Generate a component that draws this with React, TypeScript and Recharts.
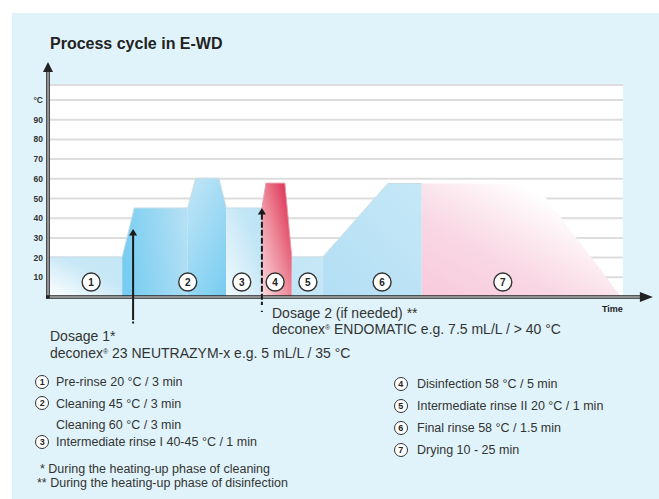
import React from 'react';
import { ComposedChart, Area, XAxis, YAxis, CartesianGrid, ReferenceLine, ReferenceDot } from 'recharts';

const FONT = '"Liberation Sans", Arial, Helvetica, sans-serif';

// Phase outlines: t = position along the time axis (relative units), v = temperature °C
const preRinse = [{ t: 0, v: 20.3 }, { t: 12.9, v: 20.3 }];
const cleaning45 = [{ t: 12.9, v: 20.3 }, { t: 15.0, v: 45.2 }, { t: 24.3, v: 45.2 }];
const cleaning60 = [{ t: 24.3, v: 45.2 }, { t: 25.7, v: 60.3 }, { t: 29.7, v: 60.3 }, { t: 31.0, v: 45.2 }];
const rinse1 = [{ t: 31.0, v: 45.2 }, { t: 37.2, v: 45.2 }];
const disinfection = [{ t: 37.2, v: 45.2 }, { t: 37.9, v: 57.8 }, { t: 41.2, v: 57.8 }, { t: 42.4, v: 20.3 }];
const rinse2 = [{ t: 42.4, v: 20.3 }, { t: 47.8, v: 20.3 }];
const finalRinse = [{ t: 47.8, v: 20.3 }, { t: 59.1, v: 57.6 }, { t: 65.0, v: 57.6 }];
const drying = [{ t: 65.0, v: 57.6 }, { t: 84.7, v: 57.6 }, { t: 99.7, v: 0 }];

const yTicks = [10, 20, 30, 40, 50, 60, 70, 80, 90, 100];
const stepMarks = [
  { t: 7.5, label: '1' },
  { t: 24.3, label: '2' },
  { t: 33.7, label: '3' },
  { t: 39.5, label: '4' },
  { t: 45.2, label: '5' },
  { t: 58.1, label: '6' },
  { t: 79.1, label: '7' },
];
const dosage1 = { t: 14.8, tip: 34.5, solidEnd: -10.7, end: -13.7 };
const dosage2 = { t: 37.2, tip: 45.2, dashEnd: -4, dot: -7.6 };

const legendLeft = [
  { n: '1', text: 'Pre-rinse 20 °C / 3 min' },
  { n: '2', text: 'Cleaning 45 °C / 3 min' },
  { n: '', text: 'Cleaning 60 °C / 3 min' },
  { n: '3', text: 'Intermediate rinse I 40-45 °C / 1 min' },
];
const legendLeftY = [382, 403.5, 424.5, 442];
const legendRight = [
  { n: '4', text: 'Disinfection 58 °C / 5 min' },
  { n: '5', text: 'Intermediate rinse II 20 °C / 1 min' },
  { n: '6', text: 'Final rinse 58 °C / 1.5 min' },
  { n: '7', text: 'Drying 10 - 25 min' },
];
const legendRightY = [384, 406, 428, 450];

const upArrow = (w: number, h: number, color: string) => (props: any) => {
  const { cx, cy } = props;
  return <path d={`M${cx},${cy} L${cx - w / 2},${cy + h} L${cx + w / 2},${cy + h} Z`} fill={color} />;
};
const rightArrow = (w: number, h: number, color: string) => (props: any) => {
  const { cx, cy } = props;
  return <path d={`M${cx},${cy} L${cx - w},${cy - h / 2} L${cx - w},${cy + h / 2} Z`} fill={color} />;
};

const Circle = ({ n, x, y }: { n: string; x: number; y: number }) => (
  <div
    style={{
      position: 'absolute',
      left: x - 7.5,
      top: y - 7.5,
      width: 12.4,
      height: 12.4,
      borderRadius: '50%',
      border: '1.3px solid #333',
      background: '#fff',
      fontSize: 9,
      fontWeight: 'bold',
      lineHeight: '12.4px',
      textAlign: 'center',
      color: '#222',
    }}
  >
    {n}
  </div>
);

const Txt = ({ x, top, size, children, bold }: any) => (
  <div
    style={{
      position: 'absolute',
      left: x,
      top,
      fontSize: size,
      lineHeight: 1.15,
      whiteSpace: 'nowrap',
      color: '#333',
      fontWeight: bold ? 'bold' : 'normal',
    }}
  >
    {children}
  </div>
);

const Reg = () => <span style={{ fontSize: '0.5em', verticalAlign: '0.55em' }}>®</span>;

export default function App() {
  const edge = '#c9dce6';
  return (
    <div
      style={{
        position: 'absolute',
        left: 0,
        top: 0,
        width: 659,
        height: 499,
        background: '#fff',
        fontFamily: FONT,
        overflow: 'hidden',
      }}
    >
      <div style={{ position: 'absolute', left: 12, top: 13, right: 0, bottom: 0, background: '#e0f3fa' }} />
      <div style={{ position: 'absolute', left: 0, top: 0 }}>
        <ComposedChart width={659} height={340} margin={{ top: 85, right: 36, bottom: 43, left: 18 }}>
          <defs>
            <linearGradient id="gPre" x1="0" y1="1" x2="1" y2="0">
              <stop offset="0" stopColor="#ffffff" />
              <stop offset="0.6" stopColor="#c8e8f6" />
              <stop offset="1" stopColor="#c3e6f6" />
            </linearGradient>
            <linearGradient id="gC45" x1="0" y1="0.5" x2="1" y2="0.3">
              <stop offset="0" stopColor="#76ccf1" />
              <stop offset="1" stopColor="#b4e0f4" />
            </linearGradient>
            <linearGradient id="gC60" x1="0.2" y1="0" x2="0.8" y2="1">
              <stop offset="0" stopColor="#bde4f6" />
              <stop offset="1" stopColor="#7ccef1" />
            </linearGradient>
            <linearGradient id="gR1" x1="0" y1="1" x2="1" y2="0">
              <stop offset="0" stopColor="#f2fafd" />
              <stop offset="0.7" stopColor="#c3e6f6" />
              <stop offset="1" stopColor="#bce3f5" />
            </linearGradient>
            <linearGradient id="gDis" x1="0" y1="1" x2="1" y2="0">
              <stop offset="0" stopColor="#fbd9df" />
              <stop offset="0.5" stopColor="#ec8596" />
              <stop offset="1" stopColor="#dc1f48" />
            </linearGradient>
            <linearGradient id="gR2" x1="0" y1="1" x2="1" y2="0">
              <stop offset="0" stopColor="#c2e5f5" />
              <stop offset="1" stopColor="#c6e7f6" />
            </linearGradient>
            <linearGradient id="gFin" x1="0" y1="1" x2="1" y2="0">
              <stop offset="0" stopColor="#b3def4" />
              <stop offset="1" stopColor="#c5e8f7" />
            </linearGradient>
            <linearGradient id="gDry" x1="0" y1="1" x2="1" y2="0">
              <stop offset="0" stopColor="#f8cadb" />
              <stop offset="0.35" stopColor="#f9d7e4" />
              <stop offset="0.52" stopColor="#fbe7ee" />
              <stop offset="0.75" stopColor="#ffffff" />
            </linearGradient>
          </defs>
          <CartesianGrid horizontal vertical={false} stroke="#dddddd" strokeWidth={2} fill="#ffffff" fillOpacity={1} />
          <XAxis type="number" dataKey="t" domain={[0, 100]} allowDataOverflow hide />
          <YAxis
            type="number"
            domain={[0, 107.6]}
            ticks={yTicks}
            width={30}
            axisLine={false}
            tickLine={false}
            tickSize={3}
            tickMargin={2}
            interval={0}
            tickFormatter={(v: number) => (v === 100 ? '°C' : String(v))}
            tick={{ fontSize: 8.5, fontWeight: 'bold', fill: '#333', fontFamily: FONT }}
          />
          <Area data={preRinse} dataKey="v" type="linear" fill="url(#gPre)" fillOpacity={1} stroke={edge} strokeWidth={1} isAnimationActive={false} dot={false} activeDot={false} />
          <Area data={cleaning45} dataKey="v" type="linear" fill="url(#gC45)" fillOpacity={1} stroke={edge} strokeWidth={1} isAnimationActive={false} dot={false} activeDot={false} />
          <Area data={cleaning60} dataKey="v" type="linear" fill="url(#gC60)" fillOpacity={1} stroke={edge} strokeWidth={1} isAnimationActive={false} dot={false} activeDot={false} />
          <Area data={rinse1} dataKey="v" type="linear" fill="url(#gR1)" fillOpacity={1} stroke={edge} strokeWidth={1} isAnimationActive={false} dot={false} activeDot={false} />
          <Area data={disinfection} dataKey="v" type="linear" fill="url(#gDis)" fillOpacity={1} stroke="#e9a0ad" strokeWidth={1} isAnimationActive={false} dot={false} activeDot={false} />
          <Area data={rinse2} dataKey="v" type="linear" fill="url(#gR2)" fillOpacity={1} stroke={edge} strokeWidth={1} isAnimationActive={false} dot={false} activeDot={false} />
          <Area data={finalRinse} dataKey="v" type="linear" fill="url(#gFin)" fillOpacity={1} stroke={edge} strokeWidth={1} isAnimationActive={false} dot={false} activeDot={false} />
          <Area data={drying} dataKey="v" type="linear" fill="url(#gDry)" fillOpacity={1} stroke="none" isAnimationActive={false} dot={false} activeDot={false} />

          {/* axes with arrows */}
          <ReferenceLine segment={[{ x: 0, y: -0.8 }, { x: 0, y: 116 }]} stroke="#222" strokeWidth={3.6} ifOverflow="visible" />
          <ReferenceLine segment={[{ x: 0, y: -0.8 }, { x: 0, y: 116 }]} stroke="#fff" strokeWidth={1} ifOverflow="visible" />
          <ReferenceDot x={0} y={119.3} r={1} shape={upArrow(10, 10, '#222')} ifOverflow="visible" />
          <ReferenceLine segment={[{ x: -0.35, y: 0 }, { x: 103.5, y: 0 }]} stroke="#222" strokeWidth={3.6} ifOverflow="visible" />
          <ReferenceLine segment={[{ x: 0.3, y: 0 }, { x: 103.5, y: 0 }]} stroke="#fff" strokeWidth={1} ifOverflow="visible" />
          <ReferenceDot x={105.2} y={0} r={1} shape={rightArrow(13, 10, '#222')} ifOverflow="visible" />

          {/* dosage arrows */}
          <ReferenceLine segment={[{ x: dosage1.t, y: dosage1.tip - 3 }, { x: dosage1.t, y: dosage1.solidEnd }]} stroke="#1a1a1a" strokeWidth={2} ifOverflow="visible" />
          <ReferenceLine segment={[{ x: dosage1.t, y: dosage1.solidEnd }, { x: dosage1.t, y: dosage1.end }]} stroke="#1a1a1a" strokeWidth={2} strokeDasharray="2 1.5" ifOverflow="visible" />
          <ReferenceDot x={dosage1.t} y={dosage1.tip} r={1} shape={upArrow(8, 6.5, '#1a1a1a')} ifOverflow="visible" />
          <ReferenceLine segment={[{ x: dosage2.t, y: dosage2.tip - 3 }, { x: dosage2.t, y: dosage2.dashEnd }]} stroke="#1a1a1a" strokeWidth={2} strokeDasharray="6 2" ifOverflow="visible" />
          <ReferenceLine segment={[{ x: dosage2.t, y: dosage2.dot + 0.6 }, { x: dosage2.t, y: dosage2.dot }]} stroke="#1a1a1a" strokeWidth={2} ifOverflow="visible" />
          <ReferenceDot x={dosage2.t} y={dosage2.tip} r={1} shape={upArrow(8, 6.5, '#1a1a1a')} ifOverflow="visible" />

          {stepMarks.map((s) => (
            <ReferenceDot
              key={s.label}
              x={s.t}
              y={7.6}
              r={9}
              fill="#fff"
              stroke="#333"
              strokeWidth={1.4}
              ifOverflow="visible"
              label={{ value: s.label, position: 'center', fontSize: 10, fontWeight: 'bold', fill: '#222', fontFamily: FONT }}
            />
          ))}
        </ComposedChart>
      </div>

      <Txt x={50} top={35} size={16} bold>
        <span style={{ color: '#222' }}>Process cycle in E-WD</span>
      </Txt>
      <Txt x={602} top={303.5} size={9} bold>
        <span style={{ color: '#222' }}>Time</span>
      </Txt>

      <Txt x={272} top={305} size={14}>Dosage 2 (if needed) **</Txt>
      <Txt x={272} top={320.5} size={14}>
        deconex<Reg /> ENDOMATIC e.g. 7.5 mL/L / &gt; 40 °C
      </Txt>
      <Txt x={50} top={327.5} size={14}>Dosage 1*</Txt>
      <Txt x={50} top={345} size={14}>
        deconex<Reg /> 23 NEUTRAZYM-x e.g. 5 mL/L / 35 °C
      </Txt>

      {legendLeft.map((l, i) => (
        <React.Fragment key={'l' + i}>
          {l.n ? <Circle n={l.n} x={42.5} y={legendLeftY[i]} /> : null}
          <Txt x={56} top={legendLeftY[i] - 7} size={12.5}>{l.text}</Txt>
        </React.Fragment>
      ))}
      {legendRight.map((l, i) => (
        <React.Fragment key={'r' + i}>
          <Circle n={l.n} x={401} y={legendRightY[i]} />
          <Txt x={417} top={legendRightY[i] - 7} size={12.5}>{l.text}</Txt>
        </React.Fragment>
      ))}

      <Txt x={40} top={462} size={12.5}>* During the heating-up phase of cleaning</Txt>
      <Txt x={37} top={476} size={12.5}>** During the heating-up phase of disinfection</Txt>
    </div>
  );
}
